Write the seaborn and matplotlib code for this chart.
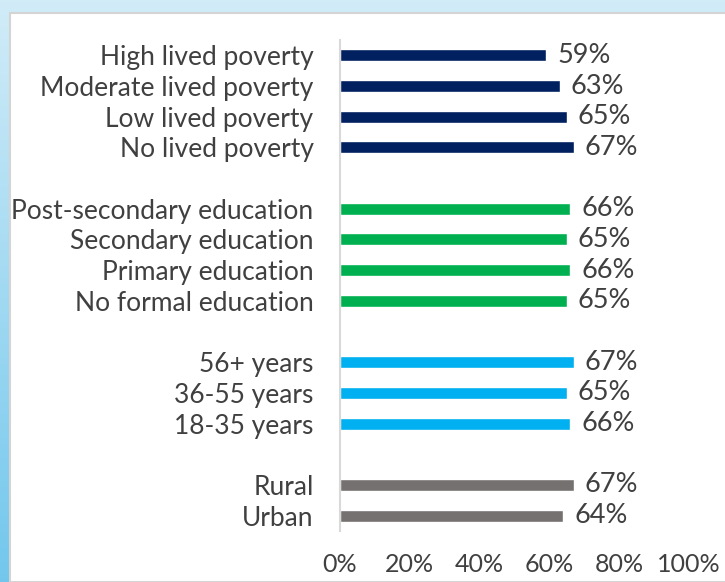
import numpy as np
import pandas as pd
import matplotlib
matplotlib.use("Agg")
import matplotlib.pyplot as plt
from matplotlib.patches import Rectangle
import seaborn as sns

categories = ["High lived poverty", "Moderate lived poverty", "Low lived poverty", "No lived poverty",
              "Post-secondary education", "Secondary education", "Primary education", "No formal education",
              "56+ years", "36-55 years", "18-35 years",
              "Rural", "Urban"]
values = [59, 63, 65, 67, 66, 65, 66, 65, 67, 65, 66, 67, 64]
groups = ["Poverty"] * 4 + ["Education"] * 4 + ["Age"] * 3 + ["Location"] * 2
order = categories[:4] + [" "] + categories[4:8] + ["  "] + categories[8:11] + ["   "] + categories[11:]
xticks = [0, 20, 40, 60, 80, 100]
xticklabels = ["0%", "20%", "40%", "60%", "80%", "100%"]
palette = {"Poverty": "#002060", "Education": "#00b050", "Age": "#00b0f0", "Location": "#767171"}

df = pd.DataFrame({"cat": categories, "val": values, "grp": groups})

sns.set_theme(style="white")
plt.rcParams["font.family"] = ["Lato", "DejaVu Sans"]
txt = "#404040"

fig = plt.figure(figsize=(7.25, 5.82), dpi=100)
W, H = 725, 582

# background gradient
bg = fig.add_axes([0, 0, 1, 1], zorder=-10)
grad = np.linspace(0, 1, 256)[:, None]
top = np.array([0.82, 0.925, 0.97])
bot = np.array([0.45, 0.78, 0.93])
img = top[None, None, :] * (1 - grad[:, :, None]) + bot[None, None, :] * grad[:, :, None]
bg.imshow(img, aspect="auto", extent=[0, 1, 0, 1], origin="upper")
bg.add_patch(Rectangle((10 / W, 0), 1, 1 - 13 / H, facecolor="white", edgecolor="#d4d4d4", lw=1.5))
bg.set_xlim(0, 1)
bg.set_ylim(0, 1)
bg.axis("off")

ax = fig.add_axes([340 / W, 1 - 531 / H, (689 - 340) / W, (531 - 40) / H])
ax.patch.set_alpha(0)
sns.barplot(data=df, x="val", y="cat", hue="grp", order=order, palette=palette,
            dodge=False, width=0.39, legend=False, ax=ax, orient="h", saturation=1)

for c in ax.containers:
    ax.bar_label(c, labels=[f"{v:.0f}%" if v == v else "" for v in c.datavalues],
                 padding=8, fontsize=19.5, color=txt)

ax.set_xlim(0, 100)
ax.set_xticks(xticks)
ax.set_xticklabels(xticklabels, fontsize=18, color=txt)
ax.set_ylabel("")
ax.set_xlabel("")
ax.tick_params(axis="y", length=0, pad=19, labelsize=19, labelcolor=txt)
ax.tick_params(axis="x", length=0, pad=16)
for s in ["top", "right", "bottom"]:
    ax.spines[s].set_visible(False)
ax.spines["left"].set_color("#d9d9d9")
ax.spines["left"].set_linewidth(1.5)

fig.savefig("out.png", dpi=100)
